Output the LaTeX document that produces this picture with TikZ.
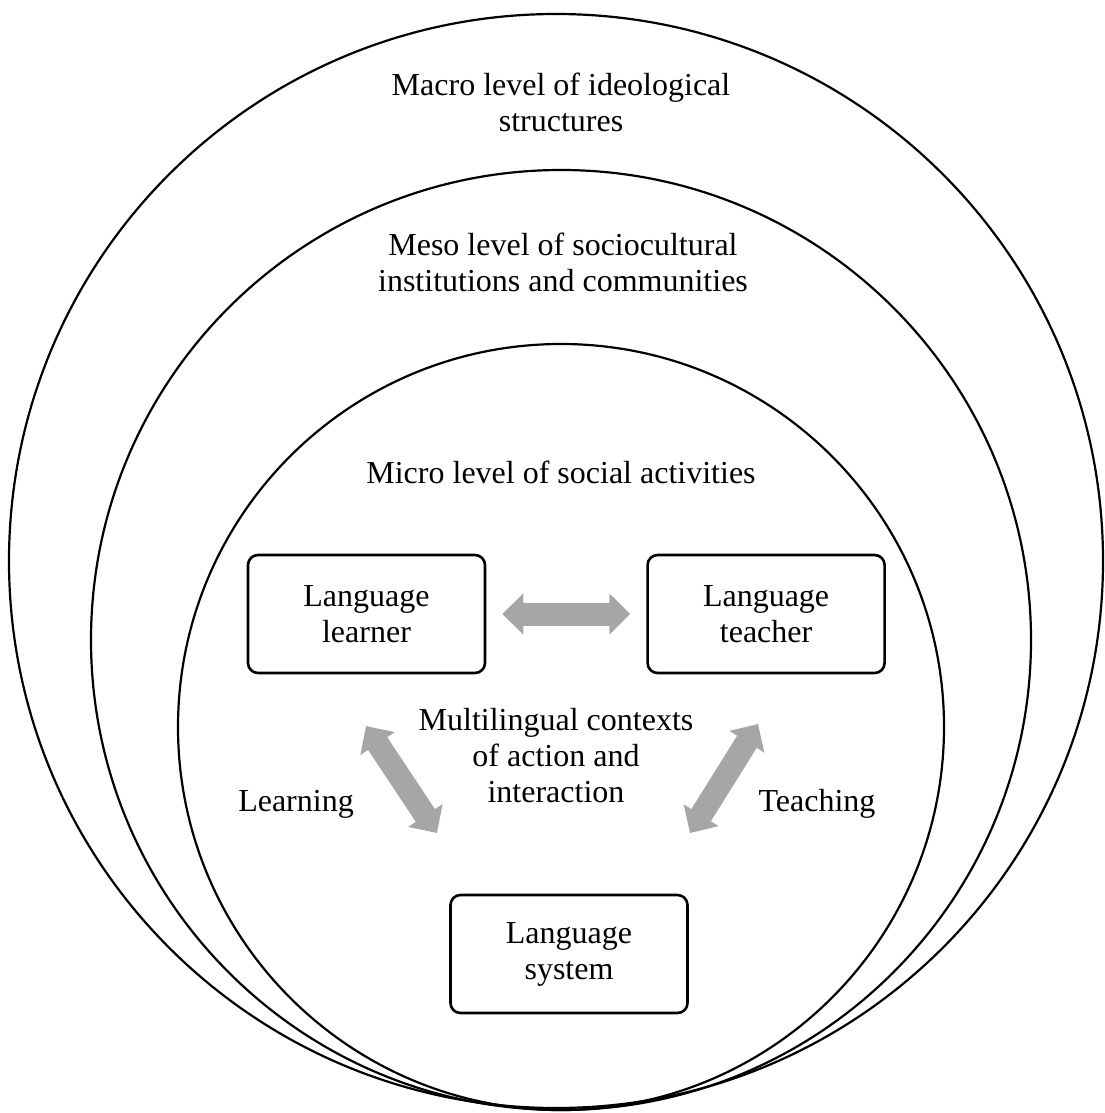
\documentclass[tikz,border=0pt]{standalone}
\usepackage{fontspec}
\setmainfont{Liberation Serif}
\usepackage{tikz}
\usetikzlibrary{positioning,arrows.meta}
\definecolor{arrowgray}{RGB}{166,166,166}
\tikzstyle{level} = [line width=1.1pt]
\tikzstyle{actor} = [rectangle, rounded corners=5pt, draw, line width=1.3pt, minimum width=118.5pt, minimum height=59pt, align=center]
\tikzstyle{caption} = [align=center]
\tikzstyle{blockarrow} = [line width=11.5pt, draw=arrowgray, {Triangle[length=10.5pt,width=20pt]}-{Triangle[length=10.5pt,width=20pt]}]

\begin{document}
\begin{tikzpicture}[x=0.5pt, y=-0.5pt, font=\fontsize{16pt}{18pt}\selectfont]
\useasboundingbox (0,0) rectangle (1104,1113);
% Three levels
\draw[level] (556,561) circle[radius=547];
\draw[level] (561,640) circle[radius=470];
\draw[level] (561,727) circle[radius=383];

\node (macro) [caption] at (561,102) {Macro level of ideological\\structures};
\node (meso) [caption] at (563,262) {Meso level of sociocultural\\institutions and communities};
\node (micro) at (561,472) {Micro level of social activities};

% Learner, teacher and system
\node (learner) [actor] at (366.5,614) {Language\\learner};
\node (teacher) [actor, right=80pt of learner] {Language\\teacher};
\node (system) [actor] at (569,954) {Language\\system};

\node (context) [caption] at (556,756) {Multilingual contexts\\of action and\\interaction};
\node (learning) at (296,804) {Learning};
\node (teaching) at (817,804) {Teaching};

% Arrows
\coordinate (learnTop) at (366,726);
\coordinate (learnBot) at (437,833);
\coordinate (teachTop) at (758,724);
\coordinate (teachBot) at (690,833);
\draw[blockarrow, shorten >=8pt, shorten <=8pt] (learner) -- (teacher);
\draw[blockarrow] (learnTop) -- (learnBot);
\draw[blockarrow] (teachTop) -- (teachBot);
\end{tikzpicture}
\end{document}
